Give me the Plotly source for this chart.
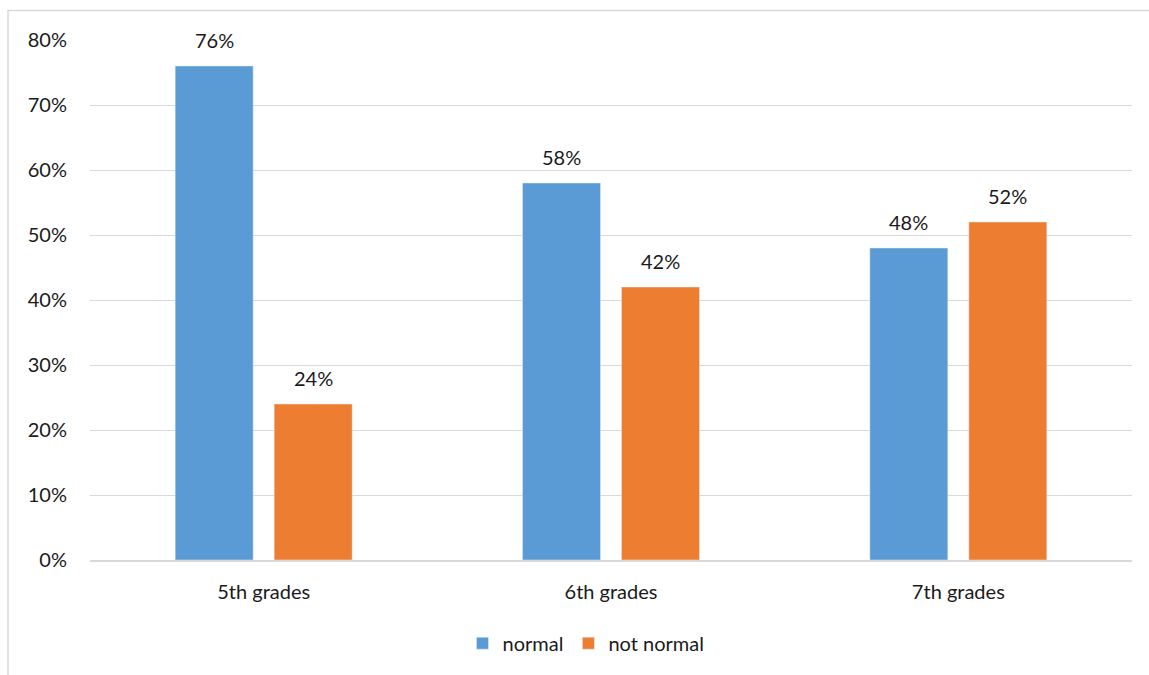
import plotly.graph_objects as go

categories = ["5th grades", "6th grades", "7th grades"]
normal = [0.76, 0.58, 0.48]
not_normal = [0.24, 0.42, 0.52]
y_ticks = [0, 0.1, 0.2, 0.3, 0.4, 0.5, 0.6, 0.7, 0.8]
y_tick_labels = ["0%", "10%", "20%", "30%", "40%", "50%", "60%", "70%", "80%"]

FONT = "Lato"
TXT = "#1a1a1a"
FS = 20

fig = go.Figure()
fig.add_trace(go.Bar(x=categories, y=normal, name="normal", marker_color="#5B9BD5"))
fig.add_trace(go.Bar(x=categories, y=not_normal, name="not normal", marker_color="#ED7D31"))

annotations = []
for vals, shift in ((normal, -49.5), (not_normal, 49.5)):
    for c, v in zip(categories, vals):
        annotations.append(dict(x=c, y=v, xref="x", yref="y", text=f"{round(v*100)}%",
                                showarrow=False, xshift=shift, yshift=26, yanchor="middle",
                                font=dict(family=FONT, size=FS, color=TXT)))

fig.update_layout(
    width=1149, height=675,
    margin=dict(l=90, r=17, t=40, b=115),
    paper_bgcolor="white", plot_bgcolor="white",
    barmode="group", bargap=0.43, bargroupgap=0.212,
    font=dict(family=FONT, size=FS, color=TXT),
    showlegend=True,
    legend=dict(orientation="h", x=0.476, xanchor="center", y=-0.16, yanchor="middle",
                font=dict(family=FONT, size=FS, color=TXT), itemwidth=30),
    annotations=annotations,
    shapes=[dict(type="rect", xref="paper", yref="paper", x0=-0.0787, x1=1.2, y0=-0.4, y1=1.0567,
                 line=dict(color="#d9d9d9", width=1.5), fillcolor="rgba(0,0,0,0)", layer="below")],
)
fig.update_yaxes(range=[0, 0.8], tickvals=y_ticks, ticktext=y_tick_labels,
                 showgrid=True, gridcolor="#d9d9d9", gridwidth=1, zeroline=False,
                 showline=False, ticks="", ticklabelstandoff=22,
                 tickfont=dict(family=FONT, size=FS, color=TXT))
fig.update_xaxes(showline=True, linecolor="#d9d9d9", linewidth=1.5, ticks="",
                 ticklabelstandoff=13, tickfont=dict(family=FONT, size=FS, color=TXT))

fig.write_html("out.html")
